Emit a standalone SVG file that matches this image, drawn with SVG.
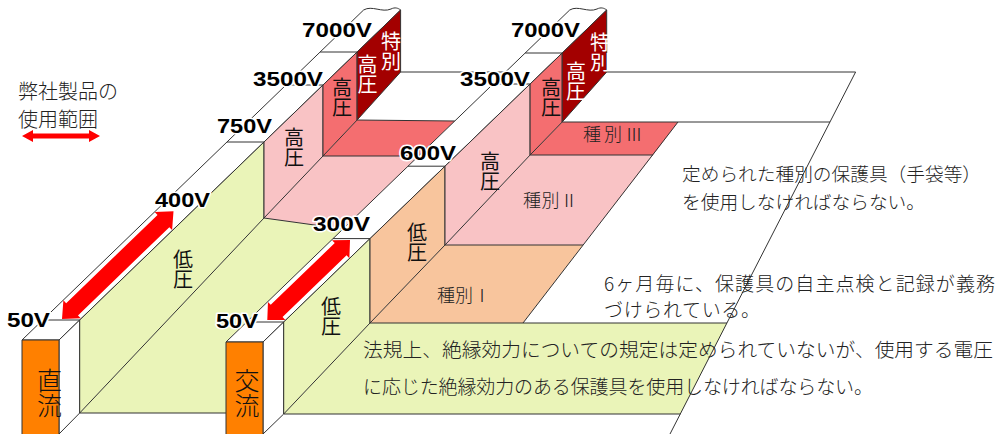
<svg xmlns="http://www.w3.org/2000/svg" width="995" height="434" viewBox="0 0 995 434">
<style>
.ln{fill:none;stroke:#333;stroke-width:1}
.f{stroke:#333;stroke-width:1;stroke-linejoin:round}
.wh{fill:#fff}
.gr{fill:#EAF4B8}
.pk{fill:#F9C3C5}
.sa{fill:#F46E70}
.dr{fill:#A30000}
.pe{fill:#F8C59D}
.or{fill:#FF8000}
.red{fill:#FF0000;stroke:none}
.v{font-family:"Liberation Sans",Arial,sans-serif;font-weight:bold;font-size:21px;fill:#000;stroke:#fff;stroke-width:3;paint-order:stroke;stroke-linejoin:round}
.vt{font-family:"Noto Sans CJK JP",sans-serif;font-size:20px;fill:#111;writing-mode:vertical-rl;text-anchor:start}
.vw{font-family:"Noto Sans CJK JP",sans-serif;font-size:20px;fill:#fff;writing-mode:vertical-rl;text-anchor:start}
.vb{font-family:"Noto Sans CJK JP",sans-serif;font-size:25px;font-weight:300;fill:#111;writing-mode:vertical-rl;text-anchor:start}
.t{font-family:"Noto Sans CJK JP",sans-serif;font-weight:300;fill:#222}
</style>

<!-- DC floors -->
<g id="dc-floor">
<polygon class="gr" points="79.7,413 264,218 343.4,229 226,342 226,413"/>
<polygon class="pk" points="264,218 323,156 418.5,156 343.4,229"/>
<polygon class="sa" points="323,156 357.1,120 454.8,121 418.5,156"/>
<path class="ln" d="M79.7,413 H226 M264,218 L343.4,229 M323,156 H418.5 M357.1,120 L454.8,121 M400.6,72 H505.5"/>
</g>

<!-- DC wall -->
<g id="dc-wall">
<path class="f wh" d="M22,340 L363.6,10 C372,5 382,13 391,9 C395,7 398,8 400.6,10 L59,340 Z"/>
<polygon class="f wh" points="59,340 79.7,320 79.7,413 59,434"/>
<polygon class="f gr" points="79.7,320 264,142 264,218 79.7,413"/>
<polygon class="f pk" points="264,142 323,85 323,156 264,218"/>
<polygon class="f sa" points="323,85 357.1,52 357.1,120 323,156"/>
<polygon class="f dr" points="357.1,52 400.6,10 400.6,72 357.1,120"/>
<rect class="f or" x="22" y="340" width="37" height="100"/>
<path class="ln" d="M42.7,320 H79.7 M227,142 H264 M286,85 H323 M320.1,52 H357.1"/>
<polygon class="red" transform="translate(62,319) rotate(-44)" points="0,0 14,-12.5 14,-8.5 141,-8.5 141,-12.5 155,0 141,12.5 141,8.5 14,8.5 14,12.5"/>
</g>

<!-- AC floors -->
<g id="ac-floor">
<polygon class="gr" points="283.7,414 370,323 727,323 680.4,414"/>
<polygon class="pe" points="370,323 445,245 583,245 523,323"/>
<polygon class="pk" points="445,245 530.1,155 653,155 583,245"/>
<polygon class="sa" points="530.1,155 562.2,122 678,122 653,155"/>
<path class="ln" d="M370,323 H727 M283.7,414 H680.4 M445,245 H583 M523,323 L678,122 M530.1,155 H653 M562.2,122 H830 M606.7,72 H855.6 M855.6,72 L670,434"/>
</g>

<!-- AC wall -->
<g id="ac-wall">
<path class="f wh" d="M226,342 L569.7,10 C578,5 588,13 597,9 C601,7 604,8 606.7,10 L263,342 Z"/>
<polygon class="f wh" points="263,342 283.7,322 283.7,414 263,434"/>
<polygon class="f gr" points="283.7,322 370,238.6 370,323 283.7,414"/>
<polygon class="f pe" points="370,238.6 445,166.2 445,245 370,323"/>
<polygon class="f pk" points="445,166.2 530.1,84 530.1,155 445,245"/>
<polygon class="f sa" points="530.1,84 562.2,53 562.2,122 530.1,155"/>
<polygon class="f dr" points="562.2,53 606.7,10 606.7,72 562.2,122"/>
<rect class="f or" x="226" y="342" width="37" height="100"/>
<path class="ln" d="M246.7,322 H283.7 M333,238.6 H370 M408,166.2 H445 M493.1,84 H530.1 M525.2,53 H562.2"/>
<polygon class="red" transform="translate(267.3,320) rotate(-44)" points="0,0 13,-12.5 13,-8.5 102,-8.5 102,-12.5 115,0 102,12.5 102,8.5 13,8.5 13,12.5"/>
</g>

<!-- voltage labels -->
<g id="volts">
<text class="v" x="302" y="37" textLength="70" lengthAdjust="spacingAndGlyphs">7000V</text>
<text class="v" x="253" y="86" textLength="70" lengthAdjust="spacingAndGlyphs">3500V</text>
<text class="v" x="217" y="133" textLength="55" lengthAdjust="spacingAndGlyphs">750V</text>
<text class="v" x="155" y="207" textLength="55" lengthAdjust="spacingAndGlyphs">400V</text>
<text class="v" x="7" y="327" textLength="43" lengthAdjust="spacingAndGlyphs">50V</text>
<text class="v" x="511" y="37" textLength="69" lengthAdjust="spacingAndGlyphs">7000V</text>
<text class="v" x="460" y="86" textLength="70" lengthAdjust="spacingAndGlyphs">3500V</text>
<text class="v" x="400" y="160" textLength="56" lengthAdjust="spacingAndGlyphs">600V</text>
<text class="v" x="313" y="231" textLength="57" lengthAdjust="spacingAndGlyphs">300V</text>
<text class="v" x="216" y="328" textLength="42" lengthAdjust="spacingAndGlyphs">50V</text>
</g>

<!-- face labels -->
<g id="face-labels">
<text class="vt" x="183" y="249">低圧</text>
<text class="vt" x="294" y="127">高圧</text>
<text class="vt" x="342" y="77">高圧</text>
<text class="vw" x="391" y="31">特別</text>
<text class="vw" x="367.5" y="54">高圧</text>
<text class="vt" x="331" y="296">低圧</text>
<text class="vt" x="417" y="222">低圧</text>
<text class="vt" x="490" y="151">高圧</text>
<text class="vt" x="551" y="77">高圧</text>
<text class="vw" x="576" y="61">高圧</text>
<text class="vw" x="600" y="32">特別</text>
<text class="vb" x="49.5" y="368">直流</text>
<text class="vb" x="247" y="368">交流</text>
<text class="t" x="583" y="141" font-size="18" textLength="60">種別Ⅲ</text>
<text class="t" x="523" y="207" font-size="18" textLength="55">種別Ⅱ</text>
<text class="t" x="437" y="302" font-size="18" textLength="54">種別Ⅰ</text>
</g>

<!-- notes -->
<g id="notes">
<text class="t" x="682" y="181" font-size="18.7" textLength="299">定められた種別の保護具（手袋等）</text>
<text class="t" x="682" y="209" font-size="18.7" textLength="243">を使用しなければならない。</text>
<text class="t" x="604" y="291" font-size="19" textLength="391">6ヶ月毎に、保護具の自主点検と記録が義務</text>
<text class="t" x="604" y="317" font-size="19" textLength="156">づけられている。</text>
<text class="t" x="363" y="357" font-size="19.7" textLength="630">法規上、絶縁効力についての規定は定められていないが、使用する電圧</text>
<text class="t" x="363" y="394" font-size="19" textLength="510">に応じた絶縁効力のある保護具を使用しなければならない。</text>
</g>

<!-- legend -->
<g id="legend">
<text class="t" x="18" y="99" font-size="20" textLength="100">弊社製品の</text>
<text class="t" x="18" y="127" font-size="20" textLength="80">使用範囲</text>
<polygon class="red" points="22,136 33,130 33,133.5 89,133.5 89,130 100,136 89,142 89,138.5 33,138.5 33,142"/>
</g>
</svg>
